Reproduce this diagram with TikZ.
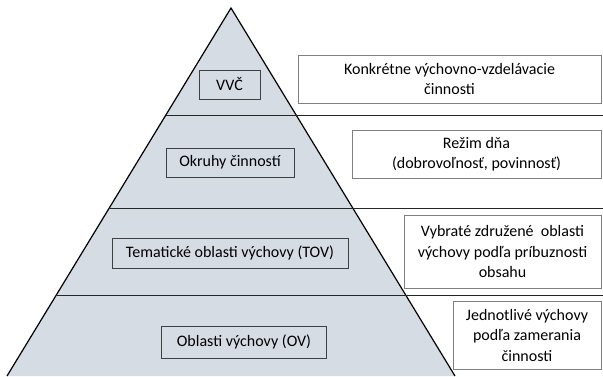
\documentclass[tikz,border=0pt]{standalone}
\usepackage{fontspec}
\setmainfont{Carlito}
\usepackage{xcolor}
\usepackage{tikz}
\usetikzlibrary{calc}
\definecolor{pyrfill}{HTML}{D6DCE4}
\definecolor{boxline}{HTML}{404040}
\definecolor{sideline}{HTML}{7F7F7F}

\begin{document}
\begin{tikzpicture}[x=1pt,y=-1pt,
        font=\fontsize{16}{20.5}\selectfont,
        levelbox/.style={draw=boxline,line width=0.9pt,inner sep=0pt},
        sidebox/.style={draw=sideline,line width=1pt,fill=white,inner sep=0pt,align=center},
        divider/.style={draw=black!85,line width=0.8pt}]
\useasboundingbox (0,0) rectangle (603,376);
\coordinate (apex) at (231,8);
\coordinate (bl) at (7,376);
\coordinate (br) at (455,376);
\coordinate (east) at (603,0);
\fill[pyrfill] (apex) -- (bl) -- (br) -- cycle;
\draw[line width=1.2pt] (bl) -- (apex) -- (br);
\coordinate (l1) at ($(apex)!0.2908!(bl)$);
\coordinate (l2) at ($(apex)!0.5435!(bl)$);
\coordinate (l3) at ($(apex)!0.7799!(bl)$);
\draw[divider] (l1) -- (l1 -| east);
\draw[divider] (l2) -- (l2 -| east);
\draw[divider] (l3) -- (l3 -| east);
\node[levelbox,minimum width=61,minimum height=29] (vvc) at (229.5,84.5) {VVČ};
\node[levelbox,minimum width=128,minimum height=29] (okruhy) at (230,162.5) {Okruhy činností};
\node[levelbox,minimum width=236,minimum height=30] (tov) at (230,253) {Tematické oblasti výchovy (TOV)};
\node[levelbox,minimum width=165,minimum height=32] (ov) at (244,342) {Oblasti výchovy (OV)};
\node[sidebox,minimum width=303,minimum height=48] (konkretne) at (449.5,79) {Konkrétne výchovno-vzdelávacie\\činnosti};
\node[sidebox,minimum width=249,minimum height=48] (rezim) at (476.5,154) {Režim dňa\\(dobrovoľnosť, povinnosť)};
\node[sidebox,minimum width=197,minimum height=73] (vybrate) at (502.5,251.5) {Vybraté združené~ oblasti\\výchovy podľa príbuznosti\\obsahu};
\node[sidebox,minimum width=148,minimum height=68] (jednotlive) at (527,335) {Jednotlivé výchovy\\podľa zamerania\\činnosti};
\end{tikzpicture}
\end{document}
